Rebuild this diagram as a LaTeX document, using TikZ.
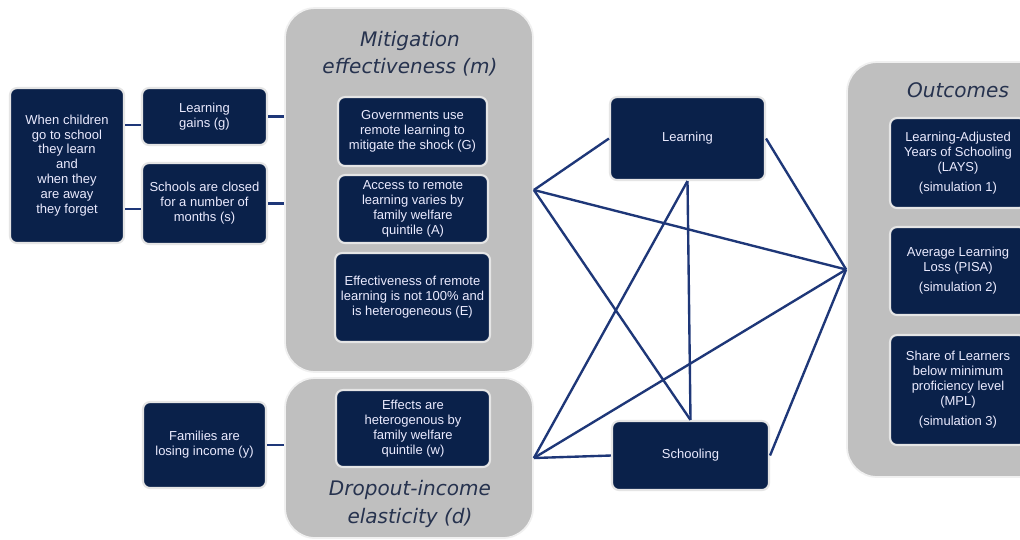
\documentclass[tikz,border=0pt]{standalone}
\usepackage{fontspec}
\setmainfont{Liberation Sans}
\newfontfamily\titlefont{DejaVu Sans}
\definecolor{navy}{RGB}{10, 33, 74}
\definecolor{panelgray}{RGB}{191, 191, 191}
\definecolor{linkblue}{RGB}{30, 55, 120}
\definecolor{titlegray}{RGB}{38, 50, 78}
\usepackage{tikz}

\begin{document}
\begin{tikzpicture}[x = 0.02cm, y = -0.02cm,
	panel/.style = {fill = panelgray, draw = gray!12, line width = 1pt, rounded corners = 0.6cm, inner sep = 0pt},
	box/.style = {fill = navy, draw = gray!20, line width = 1.2pt, rounded corners = 4pt, text = white!92!blue,
		align = center, inner sep = 1pt, font = \fontsize{7.4}{8.5}\selectfont},
	paneltitle/.style = {text = titlegray, align = center, font = \titlefont\itshape\fontsize{11.4}{15.5}\selectfont},
	link/.style = {linkblue, line width = 1.35pt}]
	\clip (0, 0) rectangle (1020, 539);
	\fill[white] (0, 0) rectangle (1020, 539);

	% grey panels
	\node[panel, minimum width = 4.96cm, minimum height = 7.28cm] (mit) at (409, 190) {};
	\node[panel, minimum width = 4.96cm, minimum height = 3.2cm] (drop) at (409, 458) {};
	\node[panel, minimum width = 4.26cm, minimum height = 8.3cm] (out) at (953.5, 269.5) {};
	\node[paneltitle] (mittitle) at (410, 54) {Mitigation\\effectiveness (m)};
	\node[paneltitle] (droptitle) at (410, 504) {Dropout-income\\elasticity (d)};
	\node[paneltitle] (outtitle) at (958, 90) {Outcomes};

	% left column
	\node[box, minimum width = 2.28cm, minimum height = 3.1cm] (when) at (67, 165.5) {When children\\go to school\\they learn\\and\\when they\\are away\\they forget};
	\node[box, minimum width = 2.5cm, minimum height = 1.14cm] (gains) at (204.5, 116.5) {Learning\\gains (g)};
	\node[box, minimum width = 2.5cm, minimum height = 1.62cm] (closed) at (204.5, 203.5) {Schools are closed\\for a number of\\months (s)};
	\node[box, minimum width = 2.46cm, minimum height = 1.72cm] (families) at (204.5, 445) {Families are\\losing income (y)};

	% inside the panels
	\node[box, minimum width = 2.98cm, minimum height = 1.38cm] (gov) at (412.5, 131.5) {Governments use\\remote learning to\\mitigate the shock (G)};
	\node[box, minimum width = 3cm, minimum height = 1.36cm] (access) at (413, 209) {Access to remote\\learning varies by\\family welfare\\quintile (A)};
	\node[box, minimum width = 3.1cm, minimum height = 1.78cm] (effect) at (412.5, 297.5) {Effectiveness of remote\\learning is not 100\% and\\is heterogeneous (E)};
	\node[box, minimum width = 3.08cm, minimum height = 1.54cm] (hetero) at (413, 428.5) {Effects are\\heterogenous by\\family welfare\\quintile (w)};

	% middle
	\node[box, minimum width = 3.1cm, minimum height = 1.66cm] (learning) at (687.5, 138.5) {Learning};
	\node[box, minimum width = 3.14cm, minimum height = 1.38cm] (schooling) at (690.5, 455.5) {Schooling};

	% outcomes
	\node[box, minimum width = 2.72cm, minimum height = 1.8cm] (out1) at (958, 163) {Learning-Adjusted\\Years of Schooling\\(LAYS)\\[3pt](simulation 1)};
	\node[box, minimum width = 2.72cm, minimum height = 1.76cm] (out2) at (958, 271) {Average Learning\\Loss (PISA)\\[3pt](simulation 2)};
	\node[box, minimum width = 2.72cm, minimum height = 2.2cm] (out3) at (958, 390) {Share of Learners\\below minimum\\proficiency level\\(MPL)\\[3pt](simulation 3)};

	% connectors
	\draw[link] ([yshift = -5pt] gains.west -| when.east) -- ([yshift = -5pt] gains.west);
	\draw[link] ([yshift = -3pt] closed.west -| when.east) -- ([yshift = -3pt] closed.west);
	\draw[link] (gains.east) -- (gains.east -| mit.west);
	\draw[link] (closed.east) -- (closed.east -| mit.west);
	\draw[link] (families.east) -- (families.east -| drop.west);
	\draw[link] (mit.east) -- (learning.west);
	\draw[link] (mit.east) -- (schooling.north);
	\draw[link] (mit.east) -- (out.west);
	\draw[link] (drop.east) -- (learning.south);
	\draw[link] (drop.east) -- (out.west);
	\draw[link] (drop.east) -- (schooling.west);
	\draw[link] (learning.south) -- (schooling.north);
	\draw[link] (learning.east) -- (out.west);
	\draw[link] (schooling.east) -- (out.west);
\end{tikzpicture}
\end{document}
